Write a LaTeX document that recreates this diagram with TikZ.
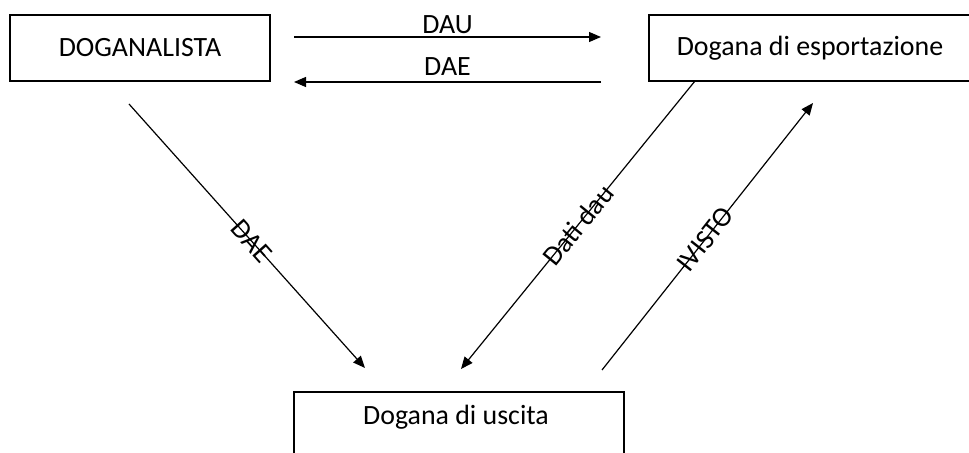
\documentclass[tikz,border=0pt]{standalone}
\usepackage{fontspec}
\setmainfont{Carlito}
\usetikzlibrary{arrows.meta}
\begin{document}
\begin{tikzpicture}[x=1bp,y=-1bp,
  box/.style={draw,line width=1.3bp,inner sep=0pt,font=\fontsize{28}{32}\selectfont},
  conn/.style={line width=1.2bp,-{Triangle[length=12bp,width=10bp]}},
  lbl/.style={font=\fontsize{28}{32}\selectfont,inner sep=0pt}]
\useasboundingbox (0,0) rectangle (969,453);
\node[box,minimum width=260bp,minimum height=66bp] (dog) at (140,48) {DOGANALISTA};
\node[box,minimum width=330bp,minimum height=66bp] (esp) at (814,48) {\hspace*{-8bp}\raisebox{3bp}{Dogana di esportazione}};
\node[box,minimum width=330bp,minimum height=66bp] (usc) at (459,425) {\hspace*{-6bp}\raisebox{20bp}{Dogana di uscita}};
\coordinate (a1) at (294,37); \coordinate (a2) at (601,37);
\coordinate (b1) at (601,82); \coordinate (b2) at (294,82);
\coordinate (c1) at (129,104); \coordinate (c2) at (365,368);
\coordinate (d1) at (695,81); \coordinate (d2) at (461,369);
\coordinate (e1) at (602,370); \coordinate (e2) at (813,103);
\draw[conn] (a1) -- (a2) node[lbl,midway,above=3bp] (lDAU) {DAU};
\draw[conn] (b1) -- (b2) node[lbl,midway,above=6bp] (lDAE) {DAE};
\draw[conn] (c1) -- (c2) node[lbl,pos=0.52,sloped] (lDAE2) {DAE};
\draw[conn] (d1) -- (d2) node[lbl,pos=0.50,sloped] (lDati) {Dati dau};
\draw[conn] (e1) -- (e2) node[lbl,pos=0.49,sloped] (lVisto) {IVISTO};
\end{tikzpicture}
\end{document}
